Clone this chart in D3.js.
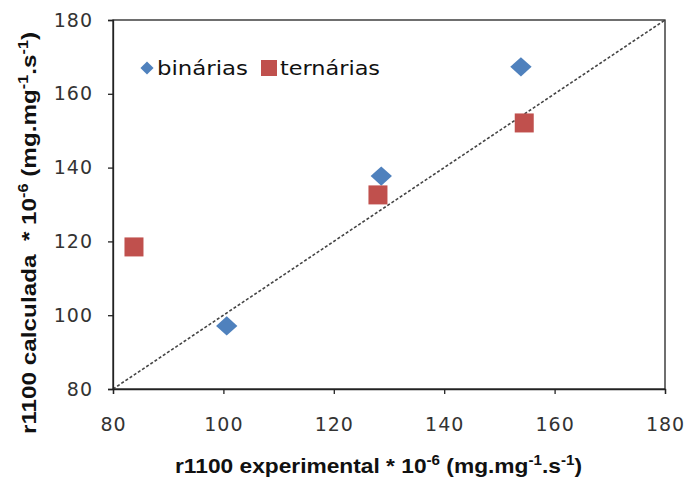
<!DOCTYPE html>
<html><head><meta charset="utf-8">
<script src="https://cdn.jsdelivr.net/npm/d3@7"></script>
<style>body{margin:0;background:#fff}</style>
</head><body>
<script>
const binX = [100.6, 128.6, 153.9];
const binY = [97.1, 137.7, 167.3];
const terX = [83.8, 128.0, 154.5];
const terY = [118.5, 132.6, 152.1];
const ticks = [80, 100, 120, 140, 160, 180];
const seriesNames = ["binárias", "ternárias"];

const W = 688, H = 479;
const svg = d3.select("body").append("svg").attr("width", W).attr("height", H);
const x = d3.scaleLinear().domain([80, 180]).range([113, 665]);
const y = d3.scaleLinear().domain([80, 180]).range([389, 20]);
const tickFont = "Verdana, 'DejaVu Sans', sans-serif";

// frame
svg.append("rect").attr("x", x(80)).attr("y", y(180)).attr("width", x(180) - x(80)).attr("height", y(80) - y(180))
  .attr("fill", "none").attr("stroke", "#222").attr("stroke-width", 1.3);

// diagonal
svg.append("line").attr("x1", x(80)).attr("y1", y(80)).attr("x2", x(180)).attr("y2", y(180))
  .attr("stroke", "#444").attr("stroke-width", 1.6).attr("stroke-dasharray", "3,2");

const xAxis = svg.append("g").attr("transform", `translate(0,${y(80)})`)
  .call(d3.axisBottom(x).tickValues(ticks).tickSize(5).tickPadding(24).tickFormat(d3.format("d")));
const yAxis = svg.append("g").attr("transform", `translate(${x(80)},0)`)
  .call(d3.axisLeft(y).tickValues(ticks).tickSize(5).tickPadding(15).tickFormat(d3.format("d")));
[xAxis, yAxis].forEach(g => {
  g.select(".domain").attr("stroke", "#222").attr("stroke-width", 1.3);
  g.selectAll(".tick line").attr("stroke", "#222").attr("stroke-width", 1.3);
  g.selectAll("text").attr("font-family", tickFont).attr("font-size", 19)
    .attr("letter-spacing", 1).attr("fill", "#333");
});

// points
const diamond = d3.symbol().type(d3.symbolDiamond2).size(240);
svg.selectAll(".bin").data(binX).enter().append("path")
  .attr("d", diamond).attr("transform", (d, i) => `translate(${x(d)},${y(binY[i])}) scale(1.1,1)`)
  .attr("fill", "#4F81BD");
svg.selectAll(".ter").data(terX).enter().append("rect")
  .attr("x", d => x(d) - 9.5).attr("y", (d, i) => y(terY[i]) - 9.5).attr("width", 19).attr("height", 19)
  .attr("fill", "#C0504D");

// legend
svg.append("path").attr("d", d3.symbol().type(d3.symbolDiamond2).size(110)).attr("transform", "translate(147,68)").attr("fill", "#4F81BD");
svg.append("text").attr("x", 157).attr("y", 75).text(seriesNames[0])
  .attr("font-family", tickFont).attr("font-size", 19).attr("fill", "#111")
  .attr("textLength", 91).attr("lengthAdjust", "spacingAndGlyphs");
svg.append("rect").attr("x", 261).attr("y", 60).attr("width", 16).attr("height", 16).attr("fill", "#C0504D");
svg.append("text").attr("x", 280).attr("y", 75).text(seriesNames[1])
  .attr("font-family", tickFont).attr("font-size", 19).attr("fill", "#111")
  .attr("textLength", 100).attr("lengthAdjust", "spacingAndGlyphs");

// axis titles
const titleFont = "'Liberation Sans', Arial, sans-serif";
function title(sel, main, len) {
  sel.attr("font-family", titleFont).attr("font-weight", "bold").attr("font-size", 21).attr("fill", "#111")
    .attr("textLength", len).attr("lengthAdjust", "spacingAndGlyphs");
  sel.append("tspan").text(main);
  sel.append("tspan").text("-6").attr("font-size", 14).attr("dy", -8);
  sel.append("tspan").text(" (mg.mg").attr("dy", 8);
  sel.append("tspan").text("-1").attr("font-size", 14).attr("dy", -8);
  sel.append("tspan").text(".s").attr("dy", 8);
  sel.append("tspan").text("-1").attr("font-size", 14).attr("dy", -8);
  sel.append("tspan").text(")").attr("dy", 8);
}
const xt = svg.append("text").attr("x", 175).attr("y", 473);
title(xt, "r1100 experimental * 10", 407);
const yt = svg.append("text").attr("transform", "translate(36,434) rotate(-90)")
  .attr("xml:space", "preserve").style("white-space", "pre");
title(yt, "r1100 calculada  * 10", 402);
</script>
</body></html>
